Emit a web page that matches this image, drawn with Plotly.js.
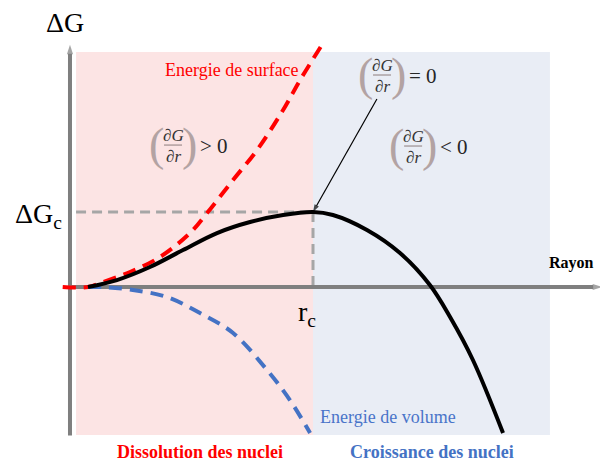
<!DOCTYPE html>
<html>
<head>
<meta charset="utf-8">
<script src="https://cdn.plot.ly/plotly-3.0.1.min.js"></script>
<style>
  html, body { margin: 0; padding: 0; background: #fff; }
  #graph { width: 600px; height: 462px; }
</style>
</head>
<body>
<div id="graph"></div>
<script>
// rayon critique et barriere d'energie (unites arbitraires)
const rc = 10;
const dGc = 10;

// energie de surface (courbe rouge)
const surfR = [-0.3, 0.74, 1.36, 2.47, 3.70, 4.94, 5.64, 6.71, 7.70, 8.77, 9.47, 10.37];
const surfG = [0, 0, 0.67, 2.0, 4.0, 7.2, 9.87, 14.27, 18.27, 23.6, 27.6, 32.3];

// energie de volume (courbe bleue)
const volR = [0.74, 1.36, 2.59, 3.99, 5.35, 6.71, 8.11, 9.05, 9.88];
const volG = [0, 0, -0.4, -1.33, -3.47, -6.13, -11.07, -15.07, -19.47];

// energie libre totale (courbe noire)
const totR = [0.74, 1.93, 3.29, 4.65, 6.05, 7.41, 8.77, 10, 10.82, 12.22, 13.58, 14.81, 15.64, 16.58, 17.82];
const totG = [0, 0.93, 2.67, 4.93, 7.2, 8.67, 9.6, 10, 9.6, 7.6, 4.53, 0.27, -4.0, -9.73, -19.47];

// zones et axes
const zoneStart = 0.25, zoneEnd = 19.75;
const zoneTop = 31.33, zoneBottom = -19.73;
const axisXEnd = 21.9, axisYTop = 32.3, axisYBottom = -19.8;
const pointeR = 12.63, pointeG = 25.07; // depart de la fleche fine

const grey = '#7f7f7f';
const serif = 'Liberation Serif, Times New Roman, serif';

// une ligne terminee par une pointe de fleche
function fleche(xs, ys, color, width, size) {
  return {x: xs, y: ys, mode: 'lines+markers', hoverinfo: 'skip',
    line: {color: color, width: width},
    marker: {symbol: ['circle', 'arrow'], size: [0, size], angleref: 'previous', color: color, line: {width: 0}}};
}

let traces = [
  fleche([0, 0], [axisYBottom, axisYTop], grey, 4, 10),
  fleche([0, axisXEnd], [0, 0], grey, 4, 10),
  {x: surfR, y: surfG, mode: 'lines', line: {color: '#ff0000', width: 4, dash: '13px,8px', shape: 'spline'}},
  {x: volR, y: volG, mode: 'lines', line: {color: '#4472c4', width: 4, dash: '13px,8px', shape: 'spline'}},
  {x: totR, y: totG, mode: 'lines', line: {color: '#000000', width: 4, shape: 'spline'}},
  fleche([pointeR, rc], [pointeG, dGc], '#000000', 1.2, 8)
];

let shapes = [
  {type: 'rect', layer: 'below', x0: zoneStart, x1: rc, y0: zoneBottom, y1: zoneTop, fillcolor: '#fce4e4', line: {width: 0}},
  {type: 'rect', layer: 'below', x0: rc, x1: zoneEnd, y0: zoneBottom, y1: zoneTop, fillcolor: '#e9edf5', line: {width: 0}},
  {type: 'line', layer: 'below', x0: zoneStart, x1: rc, y0: dGc, y1: dGc, line: {color: '#a6a6a6', width: 3, dash: '10px,6px'}},
  {type: 'line', layer: 'below', x0: rc, x1: rc, y0: dGc, y1: 0, line: {color: '#a6a6a6', width: 3, dash: '10px,6px'}}
];

let annotations = [
  {x: -0.2, y: 35.3, text: 'ΔG', showarrow: false, font: {family: serif, size: 28, color: '#000'}},
  {x: -1.3, y: 9.6, text: 'ΔG<sub>c</sub>', showarrow: false, font: {family: serif, size: 28, color: '#000'}},
  {x: 9.75, y: -3.5, text: 'r<sub>c</sub>', showarrow: false, font: {family: serif, size: 28, color: '#000'}},
  {x: 20.65, y: 3.2, text: '<b>Rayon</b>', showarrow: false, font: {family: serif, size: 16, color: '#000'}},
  {x: 6.67, y: 28.93, text: 'Energie de surface', showarrow: false, font: {family: serif, size: 18, color: '#ff0000'}},
  {x: 13.09, y: -17.33, text: 'Energie de volume', showarrow: false, font: {family: serif, size: 18, color: '#4a74c9'}},
  {x: 5.35, y: -22, text: '<b>Dissolution des nuclei</b>', showarrow: false, font: {family: serif, size: 18, color: '#ff0000'}},
  {x: 14.9, y: -22, text: '<b>Croissance des nuclei</b>', showarrow: false, font: {family: serif, size: 18, color: '#4472c4'}}
];

// (dG/dr) avec relation
function derivee(r, g, rel) {
  const f = {family: serif, size: 17, color: '#333333'};
  const p = {family: serif, size: 46, color: '#b3a3a3'};
  annotations.push(
    {x: r, y: g, xshift: -17, yshift: 1, text: '(', showarrow: false, font: p},
    {x: r, y: g, xshift: 16, yshift: 1, text: ')', showarrow: false, font: p},
    {x: r, y: g, yshift: 10, text: '<i>∂G</i>', showarrow: false, font: f},
    {x: r, y: g, yshift: -11, text: '<i>∂r</i>', showarrow: false, font: f},
    {x: r, y: g, xshift: 41, yshift: -1, text: rel, showarrow: false, font: {family: serif, size: 21, color: '#262626'}}
  );
  shapes.push({type: 'line', xsizemode: 'pixel', ysizemode: 'pixel', xanchor: r, yanchor: g,
    x0: -9, x1: 9, y0: 0, y1: 0, line: {color: '#8c7c7c', width: 1}});
}
derivee(4.24, 18.93, '&gt; 0');
derivee(12.84, 28.27, '= 0');
derivee(14.12, 18.8, '&lt; 0');

let layout = {
  width: 600,
  height: 462,
  margin: {l: 0, r: 0, t: 0, b: 0},
  showlegend: false,
  paper_bgcolor: '#ffffff',
  plot_bgcolor: '#ffffff',
  xaxis: {range: [-2.88, 21.81], visible: false, fixedrange: true},
  yaxis: {range: [-23.33, 38.27], visible: false, fixedrange: true},
  shapes: shapes,
  annotations: annotations
};

Plotly.newPlot('graph', traces, layout, {staticPlot: true});
</script>
</body>
</html>
